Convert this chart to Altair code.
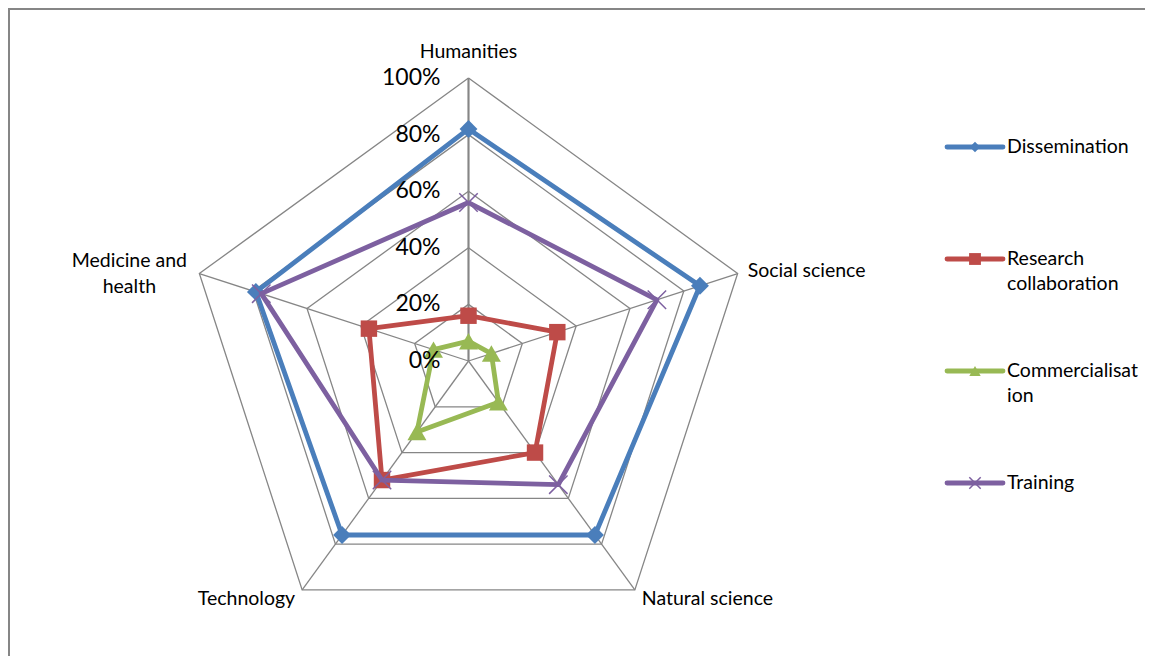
import math
import altair as alt
import pandas as pd

# ---------------- data ----------------
categories = ["Humanities", "Social science", "Natural science", "Technology", "Medicine and health"]
series = ["Dissemination", "Research collaboration", "Commercialisation", "Training"]
dissemination = [0.82, 0.86, 0.76, 0.76, 0.79]
research_collaboration = [0.16, 0.33, 0.40, 0.52, 0.37]
commercialisation = [0.07, 0.085, 0.18, 0.31, 0.13]
training = [0.56, 0.70, 0.54, 0.52, 0.77]
grid_levels = [0.2, 0.4, 0.6, 0.8, 1.0]
tick_levels = [0.0, 0.2, 0.4, 0.6, 0.8, 1.0]
tick_labels = ["0%", "20%", "40%", "60%", "80%", "100%"]
category_line1 = ["Humanities", "Social science", "Natural science", "Technology", "Medicine and"]
category_line2 = ["", "", "", "", "health"]
legend_line1 = ["Dissemination", "Research", "Commercialisat", "Training"]
legend_line2 = ["", "collaboration", "ion", ""]

values = [dissemination, research_collaboration, commercialisation, training]

# ---------------- styles ----------------
colors = ["#4A7EBB", "#BE4B48", "#98B954", "#7D60A0"]
shapes = ["diamond", "square", "triangle-up", "M-1,-1L1,1M-1,1L1,-1"]
marker_sizes = [320, 270, 360, 340]
legend_marker_sizes = [110, 140, 130, 130]
GRID = "#868686"
FONT = "Lato"
W, H = 1137, 648
R = 283.0
CX, CY = 460.5, 353.0

n = len(categories)


def ang(i):
    return 2 * math.pi * i / n


# series polygons (closed)
rows = []
for s, vals in zip(series, values):
    for i in range(n + 1):
        k = i % n
        rows.append({"series": s, "category": categories[k], "order": i,
                     "value": vals[k],
                     "x": vals[k] * math.sin(ang(k)), "y": vals[k] * math.cos(ang(k))})
series_df = pd.DataFrame(rows)

# grid polygons
grows = []
for lv in grid_levels:
    for i in range(n + 1):
        k = i % n
        grows.append({"level": lv, "order": i,
                      "x": lv * math.sin(ang(k)), "y": lv * math.cos(ang(k))})
grid_df = pd.DataFrame(grows)

spoke_df = pd.DataFrame({"category": categories,
                         "x0": [0.0] * n, "y0": [0.0] * n,
                         "x1": [math.sin(ang(i)) for i in range(n)],
                         "y1": [math.cos(ang(i)) for i in range(n)]})

tick_df = pd.DataFrame({"label": tick_labels, "x": [0.0] * len(tick_levels), "y": tick_levels})

label_df = pd.DataFrame({"category": categories, "line1": category_line1, "line2": category_line2,
                         "x": [math.sin(ang(i)) for i in range(n)],
                         "y": [math.cos(ang(i)) for i in range(n)]})

legend_df = pd.DataFrame({"series": series, "line1": legend_line1, "line2": legend_line2})

# ---------------- scales ----------------
xs = alt.Scale(domain=[-CX / R, (W - CX) / R], nice=False, zero=False)
ys = alt.Scale(domain=[-(H - CY) / R, CY / R], nice=False, zero=False)
X = alt.X("x:Q", scale=xs, axis=None)
Y = alt.Y("y:Q", scale=ys, axis=None)

layers = []

# frame (left and top)
frame_df = pd.DataFrame({"a": [0]})
layers.append(alt.Chart(frame_df).mark_rule(color=GRID, strokeWidth=2).encode(
    x=alt.value(1), y=alt.value(0), y2=alt.value(H)))
layers.append(alt.Chart(frame_df).mark_rule(color=GRID, strokeWidth=2).encode(
    x=alt.value(0), x2=alt.value(W), y=alt.value(1)))

# grid
layers.append(alt.Chart(grid_df).mark_line(color=GRID, strokeWidth=1.3).encode(
    x=X, y=Y, detail="level:N", order="order:Q"))
layers.append(alt.Chart(spoke_df).mark_rule(color=GRID, strokeWidth=1.3).encode(
    x=alt.X("x0:Q", scale=xs, axis=None), y=alt.Y("y0:Q", scale=ys, axis=None),
    x2="x1:Q", y2="y1:Q"))
layers.append(alt.Chart(spoke_df).transform_filter(
    alt.datum.category == categories[0]).mark_rule(color=GRID, strokeWidth=2).encode(
    x=alt.X("x0:Q", scale=xs, axis=None), y=alt.Y("y0:Q", scale=ys, axis=None),
    x2="x1:Q", y2="y1:Q"))

# series lines + markers
for k, s in enumerate(series):
    sub = alt.Chart(series_df).transform_filter(alt.datum.series == s)
    layers.append(sub.mark_line(color=colors[k], strokeWidth=4.8, strokeJoin="round").encode(
        x=X, y=Y, order="order:Q"))
    pts = sub.transform_filter(alt.datum.order < n)
    if shapes[k].startswith("M"):
        layers.append(pts.mark_point(shape=shapes[k], filled=False, color=colors[k],
                                     strokeWidth=1.5, size=marker_sizes[k], opacity=1).encode(x=X, y=Y))
    else:
        layers.append(pts.mark_point(shape=shapes[k], filled=True, color=colors[k],
                                     size=marker_sizes[k], opacity=1).encode(x=X, y=Y))

# percent tick labels
layers.append(alt.Chart(tick_df).mark_text(align="right", baseline="middle", dx=-28,
                                           font=FONT, fontSize=23, color="black").encode(
    x=X, y=Y, text="label:N"))

# category labels
label_style = {
    categories[0]: dict(align="center", dx=0, dy=-26),
    categories[1]: dict(align="left", dx=10, dy=-3),
    categories[2]: dict(align="left", dx=7, dy=9),
    categories[3]: dict(align="right", dx=-7, dy=9),
    categories[4]: dict(align="center", dx=-70, dy=-13),
}
for c, st in label_style.items():
    sub = alt.Chart(label_df).transform_filter(alt.datum.category == c)
    layers.append(sub.mark_text(baseline="middle", font=FONT, fontSize=19.5, color="black",
                                align=st["align"], dx=st["dx"], dy=st["dy"]).encode(
        x=X, y=Y, text="line1:N"))
    layers.append(sub.mark_text(baseline="middle", font=FONT, fontSize=19.5, color="black",
                                align=st["align"], dx=st["dx"], dy=st["dy"] + 26).encode(
        x=X, y=Y, text="line2:N"))

# legend
LY = alt.Y("series:N", scale=alt.Scale(type="point", domain=series, range=[139, 475], padding=0),
           axis=None)
for k, s in enumerate(series):
    sub = alt.Chart(legend_df).transform_filter(alt.datum.series == s)
    layers.append(sub.mark_rule(color=colors[k], strokeWidth=4.8, strokeCap="round").encode(
        x=alt.value(939), x2=alt.value(995), y=LY))
    if shapes[k].startswith("M"):
        layers.append(sub.mark_point(shape=shapes[k], filled=False, color=colors[k], strokeWidth=1.5,
                                     size=legend_marker_sizes[k], opacity=1).encode(x=alt.value(967), y=LY))
    else:
        layers.append(sub.mark_point(shape=shapes[k], filled=True, color=colors[k],
                                     size=legend_marker_sizes[k], opacity=1).encode(x=alt.value(967), y=LY))
layers.append(alt.Chart(legend_df).mark_text(align="left", baseline="middle", font=FONT, fontSize=19.5,
                                             color="black").encode(x=alt.value(999), y=LY, text="line1:N"))
layers.append(alt.Chart(legend_df).mark_text(align="left", baseline="middle", font=FONT, fontSize=19.5,
                                             color="black", dy=25).encode(x=alt.value(999), y=LY, text="line2:N"))

chart = alt.layer(*layers).resolve_scale(y="independent").properties(
    width=W, height=H, autosize=alt.AutoSizeParams(type="none"), padding=0,
    background="white",
).configure_view(stroke=None)

chart.save("out.html", embed_options={"renderer": "svg", "actions": False})
